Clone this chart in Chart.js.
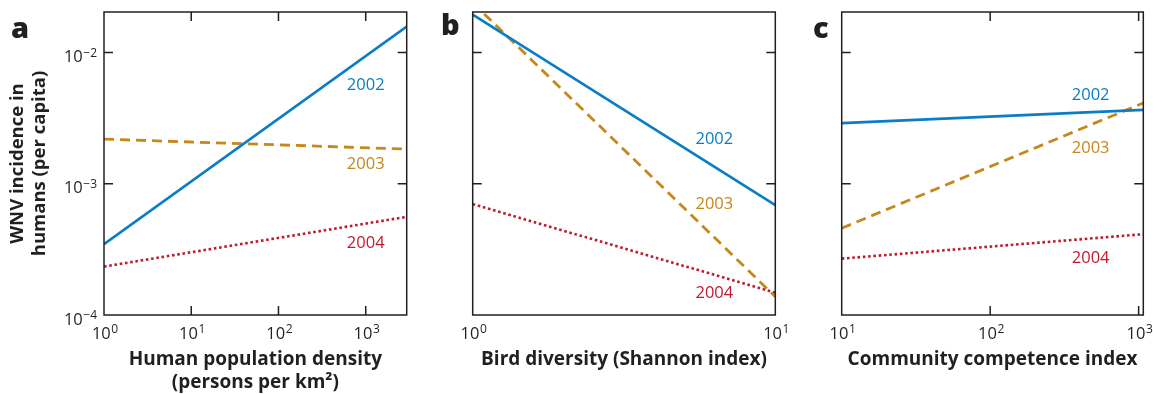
<!DOCTYPE html>
<html>
<head>
<meta charset="utf-8">
<script src="https://cdn.jsdelivr.net/npm/chart.js@4/dist/chart.umd.min.js"></script>
<style>
  html, body { margin: 0; padding: 0; background: #fff; }
  #wrap { position: relative; width: 1153px; height: 394px; overflow: hidden; }
  .panel { position: absolute; top: 0; height: 394px; }
  .panel canvas { display: block; }
  .letter { position: absolute; font-family: "Open Sans", sans-serif; font-weight: 800;
            font-size: 29px; line-height: 29px; color: #231f20; }
</style>
</head>
<body>
<div id="wrap">
  <div class="panel" style="left:0;width:420px"><canvas id="chartA" width="420" height="394"></canvas></div>
  <div class="panel" style="left:420px;width:380px"><canvas id="chartB" width="380" height="394"></canvas></div>
  <div class="panel" style="left:800px;width:353px"><canvas id="chartC" width="353" height="394"></canvas></div>
  <div class="letter" style="left:11px;top:12px">a</div>
  <div class="letter" style="left:441px;top:9px">b</div>
  <div class="letter" style="left:813px;top:12px">c</div>
</div>
<script>
// ---- Regression lines: fitted WNV incidence at the ends of each predictor range ----
const years = ['2002', '2003', '2004'];

// a: human population density (persons per km²)
const densityRange = [1, 2950];
const densityInc2002 = [3.47e-4, 1.58e-2];
const densityInc2003 = [2.19e-3, 1.84e-3];
const densityInc2004 = [2.34e-4, 5.6e-4];

// b: bird diversity (Shannon index)
const birdRange = [1, 10];
const birdInc2002 = [1.95e-2, 6.87e-4];
const birdInc2003 = [2.4e-2, 1.38e-4];
const birdInc2004 = [7.0e-4, 1.48e-4];

// c: community competence index
const competenceRange = [10, 1075];
const competenceInc2002 = [2.9e-3, 3.66e-3];
const competenceInc2003 = [4.59e-4, 4.13e-3];
const competenceInc2004 = [2.69e-4, 4.13e-4];

// decade ticks (exponents of ten)
const yTickExps = [-4, -3, -2];
const densityTickExps = [0, 1, 2, 3];
const birdTickExps = [0, 1];
const competenceTickExps = [1, 2, 3];

// where each year's name sits, in data units
const densityLabelAt = [[1000, 5.6e-3], [1000, 1.4e-3], [1000, 3.5e-4]];
const birdLabelAt = [[6.29, 2.17e-3], [6.29, 6.92e-4], [6.29, 1.47e-4]];
const competenceLabelAt = [[475, 4.7e-3], [475, 1.85e-3], [475, 2.72e-4]];

// ---- styling ----
const FONT = '"Open Sans", sans-serif';
const INK = '#231f20';
const yearStyles = [
  { color: '#0b7dc5', width: 2.6, dash: [], cap: 'butt' },
  { color: '#c6871b', width: 2.8, dash: [10, 6], cap: 'butt' },
  { color: '#c01a2e', width: 2.6, dash: [2.6, 2.7], cap: 'butt' }
];
const Y_MIN = 1e-4, Y_MAX = 2.04e-2;

// frame, inward ticks, power-of-ten labels and year names
const decorations = {
  id: 'decorations',
  afterDatasetsDraw(chart, args, opts) {
    const { ctx, chartArea: a, scales: { x, y } } = chart;
    const tick = 9;
    ctx.save();
    ctx.strokeStyle = INK;
    ctx.lineWidth = 1.5;
    ctx.strokeRect(a.left, a.top, a.right - a.left, a.bottom - a.top);

    ctx.beginPath();
    opts.xTicks.forEach(e => {
      const px = x.getPixelForValue(Math.pow(10, e));
      if (px <= a.left + 1 || px >= a.right - 1) return;
      ctx.moveTo(px, a.bottom); ctx.lineTo(px, a.bottom - tick);
      ctx.moveTo(px, a.top); ctx.lineTo(px, a.top + tick);
    });
    yTickExps.forEach(e => {
      const py = y.getPixelForValue(Math.pow(10, e));
      if (py <= a.top + 1 || py >= a.bottom - 1) return;
      ctx.moveTo(a.left, py); ctx.lineTo(a.left + tick, py);
      ctx.moveTo(a.right, py); ctx.lineTo(a.right - tick, py);
    });
    ctx.stroke();

    ctx.fillStyle = INK;
    ctx.textBaseline = 'alphabetic';
    if (opts.showXLabels) {
      opts.xTicks.forEach(e => {
        const px = x.getPixelForValue(Math.pow(10, e));
        drawPower(ctx, e, px + 1, a.bottom + 23.5, 'center');
      });
    }
    if (opts.showYLabels) {
      yTickExps.forEach(e => {
        const py = y.getPixelForValue(Math.pow(10, e));
        drawPower(ctx, e, a.left - 7, py + 9.5, 'right');
      });
    }

    ctx.font = '16.5px ' + FONT;
    ctx.textAlign = 'center';
    ctx.textBaseline = 'middle';
    opts.labelAt.forEach((p, i) => {
      ctx.fillStyle = yearStyles[i].color;
      ctx.fillText(years[i], x.getPixelForValue(p[0]), y.getPixelForValue(p[1]));
    });
    ctx.restore();
  }
};

function drawPower(ctx, exp, px, baseline, align) {
  const base = '10';
  const sup = String(exp).replace('-', '\u2212');
  const big = '16.5px ' + FONT, small = '12px ' + FONT;
  ctx.font = big;
  const wb = ctx.measureText(base).width;
  ctx.font = small;
  const ws = ctx.measureText(sup).width;
  const total = wb + 0.5 + ws;
  const x0 = align === 'center' ? px - total / 2 : px - total;
  ctx.textAlign = 'left';
  ctx.font = big;
  ctx.fillText(base, x0, baseline);
  ctx.font = small;
  ctx.fillText(sup, x0 + wb + 0.5, baseline - 5.5);
}

function makeChart(id, cfg) {
  const datasets = cfg.series.map((vals, i) => ({
    label: years[i],
    data: cfg.range.map((v, k) => ({ x: v, y: vals[k] })),
    borderColor: yearStyles[i].color,
    borderWidth: yearStyles[i].width,
    borderDash: yearStyles[i].dash,
    borderCapStyle: yearStyles[i].cap,
    pointRadius: 0,
    fill: false,
    tension: 0,
    clip: 0
  }));
  return new Chart(document.getElementById(id), {
    type: 'line',
    data: { datasets },
    plugins: [decorations],
    options: {
      responsive: false,
      animation: false,
      devicePixelRatio: 1,
      layout: { padding: { top: 12, right: cfg.padRight, left: 0, bottom: 0 } },
      plugins: {
        legend: { display: false },
        tooltip: { enabled: false },
        decorations: {
          xTicks: cfg.xTicks,
          showXLabels: true,
          showYLabels: cfg.showYLabels,
          labelAt: cfg.labelAt
        }
      },
      scales: {
        x: {
          type: 'logarithmic',
          min: cfg.range[0],
          max: cfg.range[1],
          grid: { display: false },
          border: { display: false },
          ticks: { display: false },
          title: {
            display: true,
            text: cfg.xTitle,
            color: INK,
            font: { family: FONT, weight: 'bold', size: 19, lineHeight: '23px' },
            padding: { top: 0, bottom: cfg.xTitle.length > 1 ? 0 : 22.5 }
          },
          afterFit(s) { s.height = 79; }
        },
        y: {
          type: 'logarithmic',
          min: Y_MIN,
          max: Y_MAX,
          grid: { display: false },
          border: { display: false },
          ticks: { display: false },
          title: {
            display: !!cfg.yTitle,
            text: cfg.yTitle || '',
            color: INK,
            font: { family: FONT, weight: 'bold', size: 18.5, lineHeight: '22px' },
            padding: { top: 7, bottom: 0 }
          },
          afterFit(s) { s.width = cfg.yWidth; }
        }
      }
    }
  });
}

makeChart('chartA', {
  range: densityRange,
  series: [densityInc2002, densityInc2003, densityInc2004],
  xTicks: densityTickExps,
  labelAt: densityLabelAt,
  xTitle: ['Human population density', '(persons per km\u00b2)'],
  yTitle: ['WNV incidence in', 'humans (per capita)'],
  showYLabels: true,
  yWidth: 104,
  padRight: 13.3
});

makeChart('chartB', {
  range: birdRange,
  series: [birdInc2002, birdInc2003, birdInc2004],
  xTicks: birdTickExps,
  labelAt: birdLabelAt,
  xTitle: ['Bird diversity (Shannon index)'],
  showYLabels: false,
  yWidth: 52.7,
  padRight: 24.7
});

makeChart('chartC', {
  range: competenceRange,
  series: [competenceInc2002, competenceInc2003, competenceInc2004],
  xTicks: competenceTickExps,
  labelAt: competenceLabelAt,
  xTitle: ['Community competence index'],
  showYLabels: false,
  yWidth: 41.7,
  padRight: 9.7
});
</script>
</body>
</html>
